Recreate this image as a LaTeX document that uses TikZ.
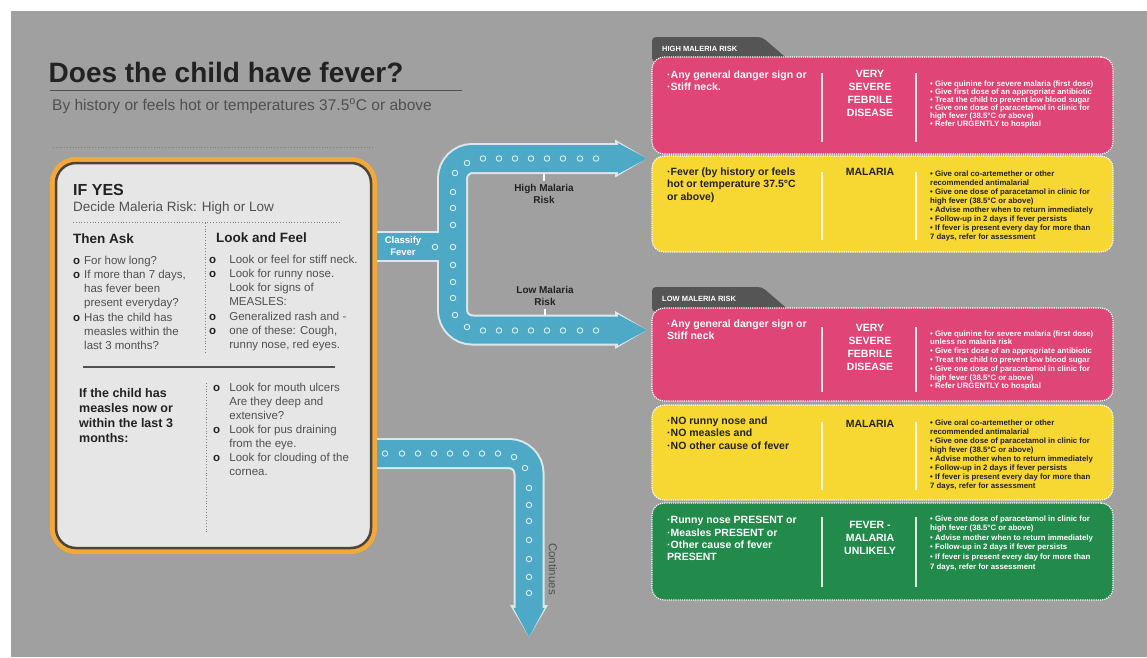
\documentclass[tikz,border=0pt]{standalone}
\usepackage{fontspec}
\setmainfont{Liberation Sans}
\usetikzlibrary{arrows.meta}

\definecolor{bggray}{HTML}{A0A0A0}
\definecolor{pinkc}{HTML}{DF4576}
\definecolor{yellowc}{HTML}{F7D732}
\definecolor{greenc}{HTML}{228B4B}
\definecolor{pipeblue}{HTML}{4EA9C7}
\definecolor{pipeline}{HTML}{DCE7EB}
\definecolor{pipering}{HTML}{D6EEF6}
\definecolor{orangec}{HTML}{F2A83A}
\definecolor{boxfill}{HTML}{E6E6E6}
\definecolor{boxline}{HTML}{4B4537}
\definecolor{tabgray}{HTML}{555555}
\definecolor{inkc}{HTML}{222222}
\definecolor{softink}{HTML}{505050}

\newcommand{\ring}[1][11pt]{\makebox[#1][l]{\bfseries\color{inkc}o}}
\newcommand{\noring}[1][11pt]{\makebox[#1]{}}

\tikzset{
  txt/.style={inner sep=0, align=left},
  dotline/.style={draw=gray, line width=0.8, dotted},
  pipeedge/.style={draw=pipeline, line width=31, line cap=butt, rounded corners=20},
  pipefill/.style={draw=pipeblue, line width=27, line cap=butt, rounded corners=20},
  edgetip/.style={-{Triangle[width=38pt, length=32pt, line width=0pt]}},
  filltip/.style={-{Triangle[width=31pt, length=29pt, line width=0pt]}},
  dot/.style={circle, draw=pipering, line width=0.9, inner sep=0, minimum size=5.5},
  panel/.style={rectangle, rounded corners=12, draw=white, line width=1.2, densely dotted, minimum width=461},
  ptext/.style={txt, anchor=north west, font=\bfseries\fontsize{10.5}{12.8}\selectfont},
  pmid/.style={inner sep=0, align=center, anchor=north, font=\bfseries\fontsize{10.5}{12.8}\selectfont},
  pnote/.style={txt, anchor=north west, font=\bfseries\fontsize{7.8}{9}\selectfont},
  sep/.style={draw=white, line width=1.5, opacity=0.85}
}

\begin{document}
\begin{tikzpicture}[x=1pt, y=-1pt]
%%%  background
\fill[white] (0,0) rectangle (1147,657);
\fill[bggray] (11,11) rectangle (1147,657);
\useasboundingbox (0,0) rectangle (1147,657);

%%%  nodes

% title nodes
\node[txt, anchor=base west, font=\bfseries\fontsize{28}{30}\selectfont, text=inkc] (title) at (48.5,82) {Does the child have fever?};
\node[txt, anchor=base west, font=\fontsize{15.5}{18}\selectfont, text=softink] (subtitle) at (52,110) {By history or feels hot or temperatures 37.5\textsuperscript{o}C or above};
\draw[softink, line width=1] (50,90) -- (462,90);
\draw[dotline] (53,147) -- (375,147);

% if yes box
\node[rectangle, rounded corners=20, draw=boxline, line width=2.5, fill=boxfill, preaction={draw=orangec, line width=12}, minimum width=315, minimum height=385, outer sep=6] (ifbox) at (213.5,355.5) {};
\node[txt, anchor=base west, font=\bfseries\fontsize{16}{18}\selectfont, text=inkc] (ifyes) at (73,195) {IF YES};
\node[txt, anchor=base west, font=\fontsize{13.5}{16}\selectfont, text=softink] (decide) at (73,211.5) {Decide Maleria Risk: High or Low};
\node[txt, anchor=base west, font=\bfseries\fontsize{13.5}{16}\selectfont, text=inkc] (thenask) at (73,243) {Then Ask};
\node[txt, anchor=base west, font=\bfseries\fontsize{13.5}{16}\selectfont, text=inkc] (lookfeel) at (216,242) {Look and Feel};
\node[txt, anchor=north west, font=\fontsize{11.5}{14.2}\selectfont, text=softink] (asklist) at (73,255.8) {\ring For how long?\\ \ring If more than 7 days,\\ \noring has fever been\\ \noring present everyday?\\ \ring Has the child has\\ \noring measles within the\\ \noring last 3 months?};
\node[txt, anchor=north west, font=\fontsize{11.5}{14.2}\selectfont, text=softink] (looklist) at (209,254.8) {\ring[17pt] Look or feel for stiff neck.\\ \ring[17pt] Look for runny nose.\\ \noring[17pt] Look for signs of\\ \noring[17pt] MEASLES:\\ \ring[17pt] Generalized rash and -\\ \ring[17pt] one of these: Cough,\\ \noring[17pt] runny nose, red eyes.};
\node[txt, anchor=north west, font=\bfseries\fontsize{12.5}{15}\selectfont, text=inkc] (measles) at (79,388.5) {If the child has\\measles now or\\within the last 3\\months:};
\node[txt, anchor=north west, font=\fontsize{11.5}{14.1}\selectfont, text=softink] (mouthlist) at (213,382.8) {\ring[13pt] Look for mouth ulcers\\ \noring[13pt] Are they deep and\\ \noring[13pt] extensive?\\ \ring[13pt] Look for pus draining\\ \noring[13pt] from the eye.\\ \ring[13pt] Look for clouding of the\\ \noring[13pt] cornea.};
\draw[dotline] (73,222.7) -- (341,222.7);
\draw[dotline] (205,223) -- (205,353);
\draw[softink, line width=2] (83,367) -- (335,367);
\draw[dotline] (206,383) -- (206,532);

% pipe nodes
\node[inner sep=3, align=center, font=\bfseries\fontsize{10}{12}\selectfont, text=inkc] (hirisk) at (544,194) {High Malaria\\Risk};
\node[inner sep=3, align=center, font=\bfseries\fontsize{10}{12}\selectfont, text=inkc] (lorisk) at (545,296) {Low Malaria\\Risk};
\node[inner sep=0, rotate=-90, font=\fontsize{11.5}{13}\selectfont, text=softink] (continues) at (553,569) {Continues};
\coordinate (fork) at (452.5,246);
\coordinate (hitip) at (647,158.5);
\coordinate (lotip) at (647,330);
\coordinate (bend) at (529,453.5);
\coordinate (conttip) at (529,637);

% high risk panels
\fill[tabgray, rounded corners=4] (652,62) -- (652,37) -- (762,37) -- (791,62) -- cycle;
\node[txt, anchor=west, font=\bfseries\fontsize{7.5}{9}\selectfont, text=white] (hitab) at (662,49) {HIGH MALERIA RISK};
\node[panel, fill=pinkc, minimum height=97] (hipink) at (882.5,105.5) {};
\node[panel, fill=yellowc, minimum height=96] (hiyellow) at (882.5,204) {};

% low risk panels
\fill[tabgray, rounded corners=4] (652,312) -- (652,287) -- (762,287) -- (791,312) -- cycle;
\node[txt, anchor=west, font=\bfseries\fontsize{7.5}{9}\selectfont, text=white] (lotab) at (662,299) {LOW MALERIA RISK};
\node[panel, fill=pinkc, minimum height=93] (lopink) at (882.5,354.5) {};
\node[panel, fill=yellowc, minimum height=95] (loyellow) at (882.5,452.5) {};
\node[panel, fill=greenc, minimum height=97] (logreen) at (882.5,551.5) {};

% panel texts
\node[ptext, text=white] (hipinkl) at (667,70.2) {·Any general danger sign or\\·Stiff neck.};
\node[pmid, text=white] (hipinkm) at (870,70.2) {VERY\\SEVERE\\FEBRILE\\DISEASE};
\node[pnote, text=white, font=\bfseries\fontsize{7.8}{8}\selectfont] (hipinkr) at (930,80.5) {• Give quinine for severe malaria (first dose)\\• Give first dose of an appropriate antibiotic\\• Treat the child to prevent low blood sugar\\• Give one dose of paracetamol in clinic for\\high fever  (38.5°C or above)\\• Refer URGENTLY to hospital};

\node[ptext, text=inkc] (hiyellowl) at (667,167.2) {·Fever (by history or feels\\hot or temperature 37.5°C\\or above)};
\node[pmid, text=inkc] (hiyellowm) at (870,168.2) {MALARIA};
\node[pnote, text=inkc] (hiyellowr) at (930,170.2) {• Give oral co-artemether or other\\recommended antimalarial\\• Give one dose of paracetamol in clinic for\\high fever  (38.5°C or above)\\• Advise mother when to return immediately\\• Follow-up in 2 days if fever persists\\• If fever is present every day for more than\\7 days, refer for  assessment};

\node[ptext, text=white] (lopinkl) at (667,319.2) {·Any general danger sign or\\Stiff neck};
\node[pmid, text=white] (lopinkm) at (870,324.2) {VERY\\SEVERE\\FEBRILE\\DISEASE};
\node[pnote, text=white, font=\bfseries\fontsize{7.8}{8.8}\selectfont] (lopinkr) at (930,330.2) {• Give quinine for severe malaria (first dose)\\unless no malaria risk\\• Give first dose of an appropriate antibiotic\\• Treat the child to prevent low blood sugar\\• Give one dose of paracetamol in clinic for\\high fever  (38.5°C or above)\\• Refer URGENTLY to hospital};

\node[ptext, text=inkc] (loyellowl) at (667,416.2) {·NO runny nose and\\·NO measles and\\·NO other cause of fever};
\node[pmid, text=inkc] (loyellowm) at (870,420.2) {MALARIA};
\node[pnote, text=inkc] (loyellowr) at (930,419.2) {• Give oral co-artemether or other\\recommended antimalarial\\• Give one dose of paracetamol in clinic for\\high fever  (38.5°C or above)\\• Advise mother when to return immediately\\• Follow-up in 2 days if fever persists\\• If fever is present every day for more than\\7 days, refer for  assessment};

\node[ptext, text=white, font=\bfseries\fontsize{10.5}{12.3}\selectfont] (logreenl) at (667,516.2) {·Runny nose PRESENT or\\·Measles PRESENT or\\·Other cause of fever\\PRESENT};
\node[pmid, text=white] (logreenm) at (870,521.2) {FEVER -\\MALARIA\\UNLIKELY};
\node[pnote, text=white, font=\bfseries\fontsize{7.8}{9.6}\selectfont] (logreenr) at (930,515.2) {• Give one dose of paracetamol in clinic for\\high fever  (38.5°C or above)\\• Advise mother when to return immediately\\• Follow-up in 2 days if fever persists\\• If fever is present every day for more than\\7 days, refer for  assessment};

% panel separators
\draw[sep] (822,73) -- (822,142);
\draw[sep] (916,73) -- (916,142);
\draw[sep] (822,172) -- (822,240);
\draw[sep] (916,172) -- (916,240);
\draw[sep] (822,327) -- (822,392);
\draw[sep] (916,327) -- (916,392);
\draw[sep] (822,422) -- (822,490);
\draw[sep] (916,422) -- (916,490);
\draw[sep] (822,517) -- (822,587);
\draw[sep] (916,517) -- (916,587);

%%% edges

% risk ticks
\draw[white, line width=1.5] (hirisk.north) -- (hirisk.north |- hitip);
\draw[white, line width=1.5] (lorisk.south) -- (lorisk.south |- lotip);

% pipe outline
\draw[pipeedge] (ifbox.east |- fork) -- (fork);
\draw[pipeedge, edgetip] (fork) -- (fork |- hitip) -- (hitip);
\draw[pipeedge, edgetip] (fork) -- (fork |- lotip) -- (lotip);
\draw[pipeedge, edgetip] (ifbox.east |- bend) -- (bend) -- (conttip);

% pipe fill
\draw[pipefill] (ifbox.east |- fork) -- (fork);
\draw[pipefill, filltip] (fork) -- (fork |- hitip) -- (hitip);
\draw[pipefill, filltip] (fork) -- (fork |- lotip) -- (lotip);
\draw[pipefill, filltip] (ifbox.east |- bend) -- (bend) -- (conttip);
\node[inner sep=0, align=center, font=\bfseries\fontsize{9.5}{12}\selectfont, text=white] (classify) at (403,246) {Classify\\Fever};

% pipe dots
\foreach \x/\y [count=\i] in {467/163, 483/158.5, 499/158.5, 515/158.5, 531/158.5, 547/158.5, 563/158.5, 580/158.5, 596/158.5, 455/173, 453/192, 453/208, 453/225, 453/247, 453/265, 453/282, 453/298, 455/315, 467/327, 483/330.5, 499/330.5, 515/330.5, 531/330.5, 547/330.5, 563/330.5, 580/330.5, 596/330.5, 435/247}
  \node[dot] (hd\i) at (\x,\y) {};
\foreach \x/\y [count=\i] in {385/453.5, 402/453.5, 418/453.5, 434/453.5, 450/453.5, 466/453.5, 482/453.5, 498/453.5, 514/457, 525/468, 529/488, 529/505, 529/521, 529/540, 529/559, 529/577, 529/593}
  \node[dot] (cd\i) at (\x,\y) {};
\end{tikzpicture}
\end{document}
